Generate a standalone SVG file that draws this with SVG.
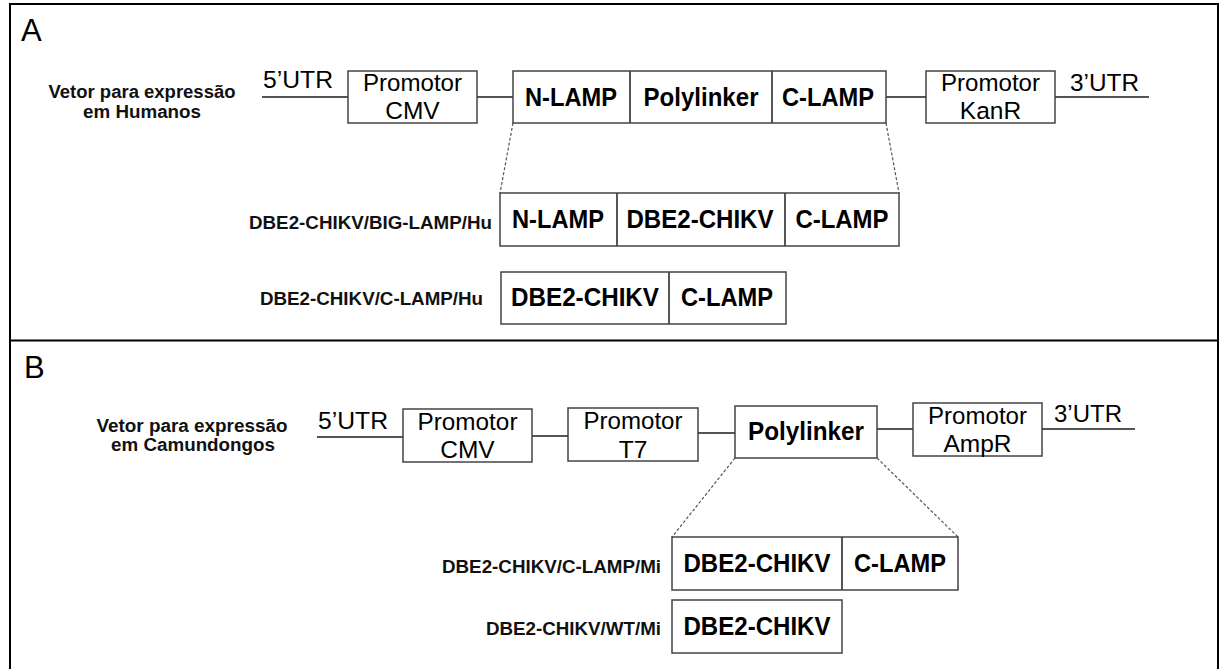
<svg xmlns="http://www.w3.org/2000/svg" width="1221" height="669" viewBox="0 0 1221 669">
<style>
.box{fill:#fff;stroke:#444;stroke-width:1.5}
.dv{stroke:#444;stroke-width:1.8}
.ln{stroke:#555;stroke-width:2;fill:none}
.dash{stroke:#555;stroke-width:1.2;stroke-dasharray:3 2;fill:none}
.reg{font-family:"Liberation Sans",Arial,sans-serif;font-size:24.5px;fill:#000}
.bold{font-family:"Liberation Sans",Arial,sans-serif;font-weight:bold;font-size:25px;fill:#000}
.lab{font-family:"Liberation Sans",Arial,sans-serif;font-weight:bold;font-size:17.5px;fill:#111}
.panel{font-family:"Liberation Sans",Arial,sans-serif;font-size:31px;fill:#000}
.m{text-anchor:middle}
.e{text-anchor:end}
</style>
<rect width="1221" height="669" fill="#fff"/>
<g id="frame">
  <path d="M10,669 V4 H1218 V669" fill="none" stroke="#000" stroke-width="2"/>
  <line x1="10" y1="340.5" x2="1218" y2="340.5" stroke="#000" stroke-width="2"/>
</g>
<g id="connectors">
  <line class="ln" x1="262" y1="97" x2="348" y2="97"/>
  <line class="ln" x1="477" y1="97" x2="513" y2="97"/>
  <line class="ln" x1="886" y1="97" x2="926" y2="97"/>
  <line class="ln" x1="1055" y1="97" x2="1149" y2="97"/>
  <line class="dash" x1="513" y1="123" x2="500" y2="193"/>
  <line class="dash" x1="886" y1="123" x2="899" y2="193"/>
  <line class="ln" x1="317" y1="437" x2="403" y2="437"/>
  <line class="ln" x1="532" y1="436" x2="568" y2="436"/>
  <line class="ln" x1="698" y1="433" x2="735" y2="433"/>
  <line class="ln" x1="877" y1="429" x2="913" y2="429"/>
  <line class="ln" x1="1042" y1="429" x2="1135" y2="429"/>
  <line class="dash" x1="735" y1="458" x2="672" y2="537"/>
  <line class="dash" x1="877" y1="458" x2="958" y2="537"/>
</g>
<g id="panelA">
  <text class="panel" x="21" y="41">A</text>
</g>
<g id="label-vetor-hu">
  <text class="lab m" x="142" y="98" textLength="187" lengthAdjust="spacingAndGlyphs">Vetor para expressão</text>
  <text class="lab m" x="142" y="118" textLength="118" lengthAdjust="spacingAndGlyphs">em Humanos</text>
</g>
<g id="utr5-a"><text class="reg" x="263" y="88" textLength="70" lengthAdjust="spacingAndGlyphs">5’UTR</text></g>
<g id="cmv-a">
  <rect class="box" x="348" y="71" width="129" height="52"/>
  <text class="reg m" x="412.5" y="91" textLength="99" lengthAdjust="spacingAndGlyphs">Promotor</text>
  <text class="reg m" x="412.5" y="119">CMV</text>
</g>
<g id="lamp-vector-a">
  <rect class="box" x="513" y="71" width="373" height="52"/>
  <line class="dv" x1="630" y1="71" x2="630" y2="123"/>
  <line class="dv" x1="772" y1="71" x2="772" y2="123"/>
  <text class="bold m" x="571" y="106" textLength="92" lengthAdjust="spacingAndGlyphs">N-LAMP</text>
  <text class="bold m" x="701" y="106" textLength="115" lengthAdjust="spacingAndGlyphs">Polylinker</text>
  <text class="bold m" x="828" y="106" textLength="92" lengthAdjust="spacingAndGlyphs">C-LAMP</text>
</g>
<g id="kanr-a">
  <rect class="box" x="926" y="71" width="129" height="52"/>
  <text class="reg m" x="990.5" y="91" textLength="99" lengthAdjust="spacingAndGlyphs">Promotor</text>
  <text class="reg m" x="990.5" y="119">KanR</text>
</g>
<g id="utr3-a"><text class="reg" x="1070" y="91" textLength="69" lengthAdjust="spacingAndGlyphs">3’UTR</text></g>
<g id="big-lamp-hu">
  <text class="lab e" x="492" y="229" textLength="243" lengthAdjust="spacingAndGlyphs">DBE2-CHIKV/BIG-LAMP/Hu</text>
  <rect class="box" x="500" y="193" width="399" height="53"/>
  <line class="dv" x1="617" y1="193" x2="617" y2="246"/>
  <line class="dv" x1="785" y1="193" x2="785" y2="246"/>
  <text class="bold m" x="558" y="228" textLength="92" lengthAdjust="spacingAndGlyphs">N-LAMP</text>
  <text class="bold m" x="700" y="228" textLength="147" lengthAdjust="spacingAndGlyphs">DBE2-CHIKV</text>
  <text class="bold m" x="842" y="228" textLength="93" lengthAdjust="spacingAndGlyphs">C-LAMP</text>
</g>
<g id="c-lamp-hu">
  <text class="lab e" x="483" y="305" textLength="223" lengthAdjust="spacingAndGlyphs">DBE2-CHIKV/C-LAMP/Hu</text>
  <rect class="box" x="501" y="272" width="285" height="52"/>
  <line class="dv" x1="669" y1="272" x2="669" y2="324"/>
  <text class="bold m" x="585" y="306" textLength="148" lengthAdjust="spacingAndGlyphs">DBE2-CHIKV</text>
  <text class="bold m" x="727" y="306" textLength="92" lengthAdjust="spacingAndGlyphs">C-LAMP</text>
</g>
<g id="panelB">
  <text class="panel" x="24" y="378">B</text>
</g>
<g id="label-vetor-mi">
  <text class="lab m" x="192" y="432" textLength="191" lengthAdjust="spacingAndGlyphs">Vetor para expressão</text>
  <text class="lab m" x="193" y="451" textLength="164" lengthAdjust="spacingAndGlyphs">em Camundongos</text>
</g>
<g id="utr5-b"><text class="reg" x="318" y="429" textLength="70" lengthAdjust="spacingAndGlyphs">5’UTR</text></g>
<g id="cmv-b">
  <rect class="box" x="403" y="409" width="129" height="53"/>
  <text class="reg m" x="467.5" y="430" textLength="100" lengthAdjust="spacingAndGlyphs">Promotor</text>
  <text class="reg m" x="467.5" y="458">CMV</text>
</g>
<g id="t7-b">
  <rect class="box" x="568" y="408" width="130" height="53"/>
  <text class="reg m" x="633" y="429" textLength="99" lengthAdjust="spacingAndGlyphs">Promotor</text>
  <text class="reg m" x="633" y="458">T7</text>
</g>
<g id="polylinker-b">
  <rect class="box" x="735" y="406" width="142" height="52"/>
  <text class="bold m" x="806" y="440" textLength="116" lengthAdjust="spacingAndGlyphs">Polylinker</text>
</g>
<g id="ampr-b">
  <rect class="box" x="913" y="403" width="129" height="53"/>
  <text class="reg m" x="977.5" y="424" textLength="99" lengthAdjust="spacingAndGlyphs">Promotor</text>
  <text class="reg m" x="977.5" y="452">AmpR</text>
</g>
<g id="utr3-b"><text class="reg" x="1054" y="422" textLength="68" lengthAdjust="spacingAndGlyphs">3’UTR</text></g>
<g id="c-lamp-mi">
  <text class="lab e" x="661" y="573" textLength="219" lengthAdjust="spacingAndGlyphs">DBE2-CHIKV/C-LAMP/Mi</text>
  <rect class="box" x="672" y="537" width="286" height="53"/>
  <line class="dv" x1="842" y1="537" x2="842" y2="590"/>
  <text class="bold m" x="757" y="572" textLength="147" lengthAdjust="spacingAndGlyphs">DBE2-CHIKV</text>
  <text class="bold m" x="900" y="572" textLength="92" lengthAdjust="spacingAndGlyphs">C-LAMP</text>
</g>
<g id="wt-mi">
  <text class="lab e" x="661" y="635" textLength="175" lengthAdjust="spacingAndGlyphs">DBE2-CHIKV/WT/Mi</text>
  <rect class="box" x="672" y="600" width="170" height="53"/>
  <text class="bold m" x="757" y="635" textLength="147" lengthAdjust="spacingAndGlyphs">DBE2-CHIKV</text>
</g>
</svg>
